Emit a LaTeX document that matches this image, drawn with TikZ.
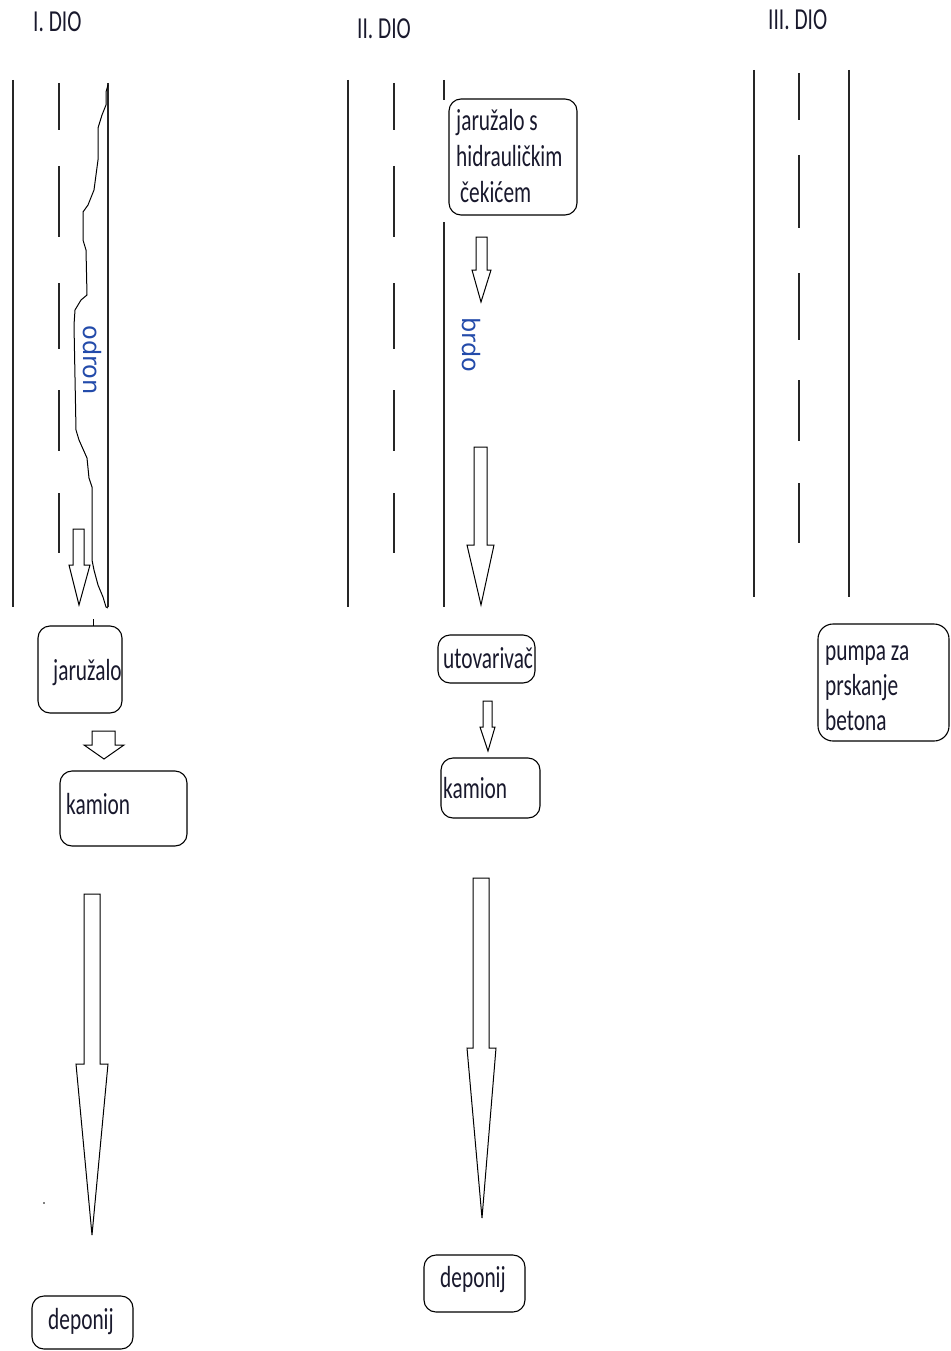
\documentclass[tikz,border=0pt]{standalone}
\usepackage{graphicx}
\usepackage{fontspec}
\setmainfont{Carlito}
\newfontfamily\rotfont{DejaVu Sans}
\definecolor{ink}{RGB}{25,25,45}
\definecolor{rotblue}{RGB}{35,75,170}
\newcommand{\sqz}[1]{\scalebox{0.7}[1]{#1}}
\tikzset{
  roadline/.style={line width=1.2pt, black!85},
  dashline/.style={line width=1.2pt, black!85},
  box/.style={draw, line width=1.1pt, rounded corners=12pt, inner sep=0pt, fill=white},
  txt/.style={inner sep=0pt, anchor=base west, text=ink, font=\fontsize{30.5}{36}\selectfont},
  rottxt/.style={inner sep=0pt, rotate=-90, text=rotblue, font=\rotfont\fontsize{24}{28}\selectfont},
  blockarrow/.style={draw, line width=1pt, fill=white, line join=miter},
}
\begin{document}
\begin{tikzpicture}[x=1pt,y=-1pt]
\useasboundingbox (0,0) rectangle (950,1351);

% headings
\node[txt] (h1) at (33,32) {\sqz{I. DIO}};
\node[txt] (h2) at (357,39) {\sqz{II. DIO}};
\node[txt] (h3) at (768,30) {\sqz{III. DIO}};

% ---------- section I road ----------
\draw[roadline] (13,80) -- (13,607);
\foreach \a/\b in {83/130,166/237,283/349,390/451,493/553}
  \draw[dashline] (59,\a) -- (59,\b);
\draw[roadline] (108,83) -- (108,607);
% odron boundary
\draw[line width=1pt] (108,85) -- (106,92) -- (106,105) -- (102,115) -- (98,128) -- (98,160)
  -- (94,190) -- (88,205) -- (83,212) -- (83,240) -- (86,250) -- (87,295) -- (81,300)
  -- (75,310) -- (74,325) -- (76,430) -- (79,440) -- (87,458) -- (89,478) -- (92,487)
  -- (92,560) -- (94,570) -- (98,585) -- (103,597) -- (106,607) -- (108,608);
\node[rottxt] (odron) at (92,360) {odron};
\draw[blockarrow] (73,529) -- (84,529) -- (84,565) -- (90,565) -- (79,605) -- (69,565) -- (73,565) -- cycle;

% section I chain
\draw[line width=1pt] (93,619) -- (93,627);
\node[box, minimum width=84pt, minimum height=87pt] (jar1) at (80,669.5) {};
\node[txt] (jar1t) at (53,680) {\sqz{jaružalo}};
\draw[blockarrow] (92,731) -- (115,731) -- (115,745) -- (124,745) -- (104,759) -- (84,745) -- (92,745) -- cycle;
\node[box, minimum width=127pt, minimum height=75pt] (kam1) at (123.5,808.5) {};
\node[txt] (kam1t) at (66,814) {\sqz{kamion}};
\draw[blockarrow] (84,894) -- (100,894) -- (100,1064) -- (108,1064) -- (92,1235) -- (76,1064) -- (84,1064) -- cycle;
\fill (44,1203) circle (0.9pt);
\node[box, minimum width=101pt, minimum height=53pt] (dep1) at (82.5,1322.5) {};
\node[txt] (dep1t) at (48,1329) {\sqz{deponij}};

% ---------- section II road ----------
\draw[roadline] (348,80) -- (348,607);
\foreach \a/\b in {83/130,166/237,283/349,390/451,493/553}
  \draw[dashline] (394,\a) -- (394,\b);
\draw[roadline] (444,80) -- (444,100);
\draw[roadline] (444,222) -- (444,607);

\node[box, minimum width=128pt, minimum height=116pt] (jar2) at (513,157) {};
\node[txt] (jar2a) at (456,131) {\sqz{jaružalo s}};
\node[txt] (jar2b) at (456,167) {\sqz{hidrauličkim}};
\node[txt] (jar2c) at (460,203) {\sqz{čekićem}};
\draw[blockarrow] (476,237) -- (487,237) -- (487,270) -- (491,270) -- (481,302) -- (472,270) -- (476,270) -- cycle;
\node[rottxt] (brdo) at (471,345) {brdo};
\draw[blockarrow] (474,447) -- (487,447) -- (487,545) -- (494,545) -- (481,605) -- (467,545) -- (474,545) -- cycle;

\node[box, minimum width=97pt, minimum height=48pt] (utov) at (486.5,659) {};
\node[txt] (utovt) at (443,668) {\sqz{utovarivač}};
\draw[blockarrow] (483,701) -- (492,701) -- (492,727) -- (495,727) -- (488,751) -- (480,727) -- (483,727) -- cycle;
\node[box, minimum width=99pt, minimum height=60pt] (kam2) at (490.5,788) {};
\node[txt] (kam2t) at (443,798) {\sqz{kamion}};
\draw[blockarrow] (473,878) -- (489,878) -- (489,1048) -- (496,1048) -- (482,1218) -- (467,1048) -- (473,1048) -- cycle;
\node[box, minimum width=101pt, minimum height=57pt] (dep2) at (474.5,1283.5) {};
\node[txt] (dep2t) at (440,1287) {\sqz{deponij}};

% ---------- section III road ----------
\draw[roadline] (754,70) -- (754,597);
\foreach \a/\b in {73/120,155/228,273/340,380/441,483/543}
  \draw[dashline] (799,\a) -- (799,\b);
\draw[roadline] (849,70) -- (849,597);

\node[box, rounded corners=15pt, minimum width=131pt, minimum height=117pt] (pumpa) at (883.5,682.5) {};
\node[txt] (pumpaa) at (825,660) {\sqz{pumpa za}};
\node[txt] (pumpab) at (825,695) {\sqz{prskanje}};
\node[txt] (pumpac) at (825,730) {\sqz{betona}};
\end{tikzpicture}
\end{document}
